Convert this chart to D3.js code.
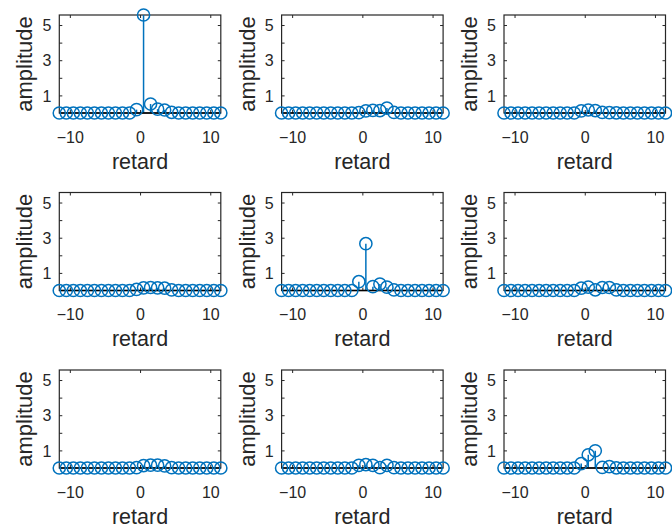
<!DOCTYPE html>
<html>
<head>
<meta charset="utf-8">
<script src="https://cdn.jsdelivr.net/npm/d3@7"></script>
<style>
  html, body { margin: 0; padding: 0; background: #fff; }
  svg { display: block; }
  text { font-family: "Liberation Sans", Arial, Helvetica, sans-serif; fill: #262626; }
</style>
</head>
<body>
<svg id="chart" width="672" height="529"></svg>
<script>
// ---- data ----
const lags = [-11.5, -10.5, -9.5, -8.5, -7.5, -6.5, -5.5, -4.5, -3.5, -2.5, -1.5, -0.5,
              0.5, 1.5, 2.5, 3.5, 4.5, 5.5, 6.5, 7.5, 8.5, 9.5, 10.5, 11.5];
const panel1 = [0,0,0,0,0,0,0,0,0,0,0, 0.19, 5.57, 0.51, 0.22, 0.17, 0.04, 0,0,0,0,0,0,0];
const panel2 = [0,0,0,0,0,0,0,0,0,0,0, 0.02, 0.12, 0.15, 0.14, 0.28, 0.03, 0,0,0,0,0,0,0];
const panel3 = [0,0,0,0,0,0,0,0,0,0,0, 0.12, 0.17, 0.14, 0.03, 0.02, 0.01, 0,0,0,0,0,0,0];
const panel4 = [0,0,0,0,0,0,0,0,0,0,0, 0.06, 0.15, 0.17, 0.15, 0.13, 0.03, 0,0,0,0,0,0,0];
const panel5 = [0,0,0,0,0,0,0,0,0,0,0, 0.50, 2.66, 0.22, 0.37, 0.19, 0.03, 0,0,0,0,0,0,0];
const panel6 = [0,0,0,0,0,0,0,0,0,0,0, 0.13, 0.19, 0.04, 0.17, 0.17, 0.03, 0,0,0,0,0,0,0];
const panel7 = [0,0,0,0,0,0,0,0,0,0,0, 0.02, 0.14, 0.16, 0.16, 0.12, 0.02, 0,0,0,0,0,0,0];
const panel8 = [0,0,0,0,0,0,0,0,0,0,0, 0.15, 0.19, 0.15, 0.02, 0.15, 0.02, 0,0,0,0,0,0,0];
const panel9 = [0,0,0,0,0,0,0,0,0,0,0, 0.25, 0.75, 0.98, 0.03, 0.08, 0.01, 0,0,0,0,0,0,0];
const panels = [panel1, panel2, panel3, panel4, panel5, panel6, panel7, panel8, panel9];

const xDomain = [-11.5, 11.5];
const yDomain = [0, 5.57];
const xTicks = [-10, 0, 10];
const yTicks = [1, 2, 3, 4, 5];
const yTickLabels = [1, 3, 5];
const xLabel = "retard";
const yLabel = "amplitude";

// ---- layout ----
const colLeft = [59.3, 281.6, 504];
const rowTop = [15, 192.5, 370];
const boxW = 161.5, boxH = 98;
const blue = "#0072BD", axisCol = "#262626";

const svg = d3.select("#chart");

panels.forEach((vals, i) => {
  const r = Math.floor(i / 3), c = i % 3;
  const g = svg.append("g").attr("transform", `translate(${colLeft[c]},${rowTop[r]})`);
  const x = d3.scaleLinear().domain(xDomain).range([0, boxW]);
  const y = d3.scaleLinear().domain(yDomain).range([boxH, 0]);

  // box
  g.append("rect").attr("x", 0).attr("y", 0).attr("width", boxW).attr("height", boxH)
    .attr("fill", "none").attr("stroke", axisCol).attr("stroke-width", 1.2);

  // axes with inward ticks
  const tl = 3;
  const xb = g.append("g").attr("transform", `translate(0,${boxH})`)
    .call(d3.axisBottom(x).tickValues(xTicks).tickSizeInner(-tl).tickSizeOuter(0).tickPadding(20));
  const xt = g.append("g")
    .call(d3.axisTop(x).tickValues(xTicks).tickSizeInner(-tl).tickSizeOuter(0).tickFormat(""));
  const yl = g.append("g")
    .call(d3.axisLeft(y).tickValues(yTicks).tickSizeInner(-tl).tickSizeOuter(0).tickPadding(8)
      .tickFormat(d => yTickLabels.includes(d) ? d : ""));
  const yr = g.append("g").attr("transform", `translate(${boxW},0)`)
    .call(d3.axisRight(y).tickValues(yTicks).tickSizeInner(-tl).tickSizeOuter(0).tickFormat(""));
  [xb, xt, yl, yr].forEach(a => {
    a.select(".domain").remove();
    a.selectAll("line").attr("stroke", axisCol).attr("stroke-width", 1);
    a.selectAll("text").attr("font-size", 16).attr("fill", axisCol)
      .style("font-family", '"Liberation Sans", Arial, sans-serif');
  });
  xb.selectAll("text").attr("dy", null).attr("y", 29.5).attr("dominant-baseline", null);
  yl.selectAll("text").attr("dy", "0.36em");

  // axis labels
  g.append("text").attr("x", boxW / 2).attr("y", boxH + 55.5)
    .attr("text-anchor", "middle").attr("font-size", 21.5).text(xLabel);
  g.append("text").attr("transform", `translate(-27,${boxH / 2}) rotate(-90)`)
    .attr("text-anchor", "middle").attr("font-size", 22).text(yLabel);

  // stems
  const data = lags.map((l, k) => ({ l, v: vals[k] }));
  g.selectAll("line.stem").data(data).enter().append("line").attr("class", "stem")
    .attr("x1", d => x(d.l)).attr("x2", d => x(d.l))
    .attr("y1", y(0)).attr("y2", d => y(d.v))
    .attr("stroke", blue).attr("stroke-width", 1.5);
  // baseline
  g.append("line").attr("x1", x(xDomain[0])).attr("x2", x(xDomain[1]))
    .attr("y1", y(0)).attr("y2", y(0)).attr("stroke", "#000").attr("stroke-width", 1.3);
  // markers
  g.selectAll("circle.mk").data(data).enter().append("circle").attr("class", "mk")
    .attr("cx", d => x(d.l)).attr("cy", d => y(d.v)).attr("r", 6.1)
    .attr("fill", "none").attr("stroke", blue).attr("stroke-width", 1.5);
});
</script>
</body>
</html>
